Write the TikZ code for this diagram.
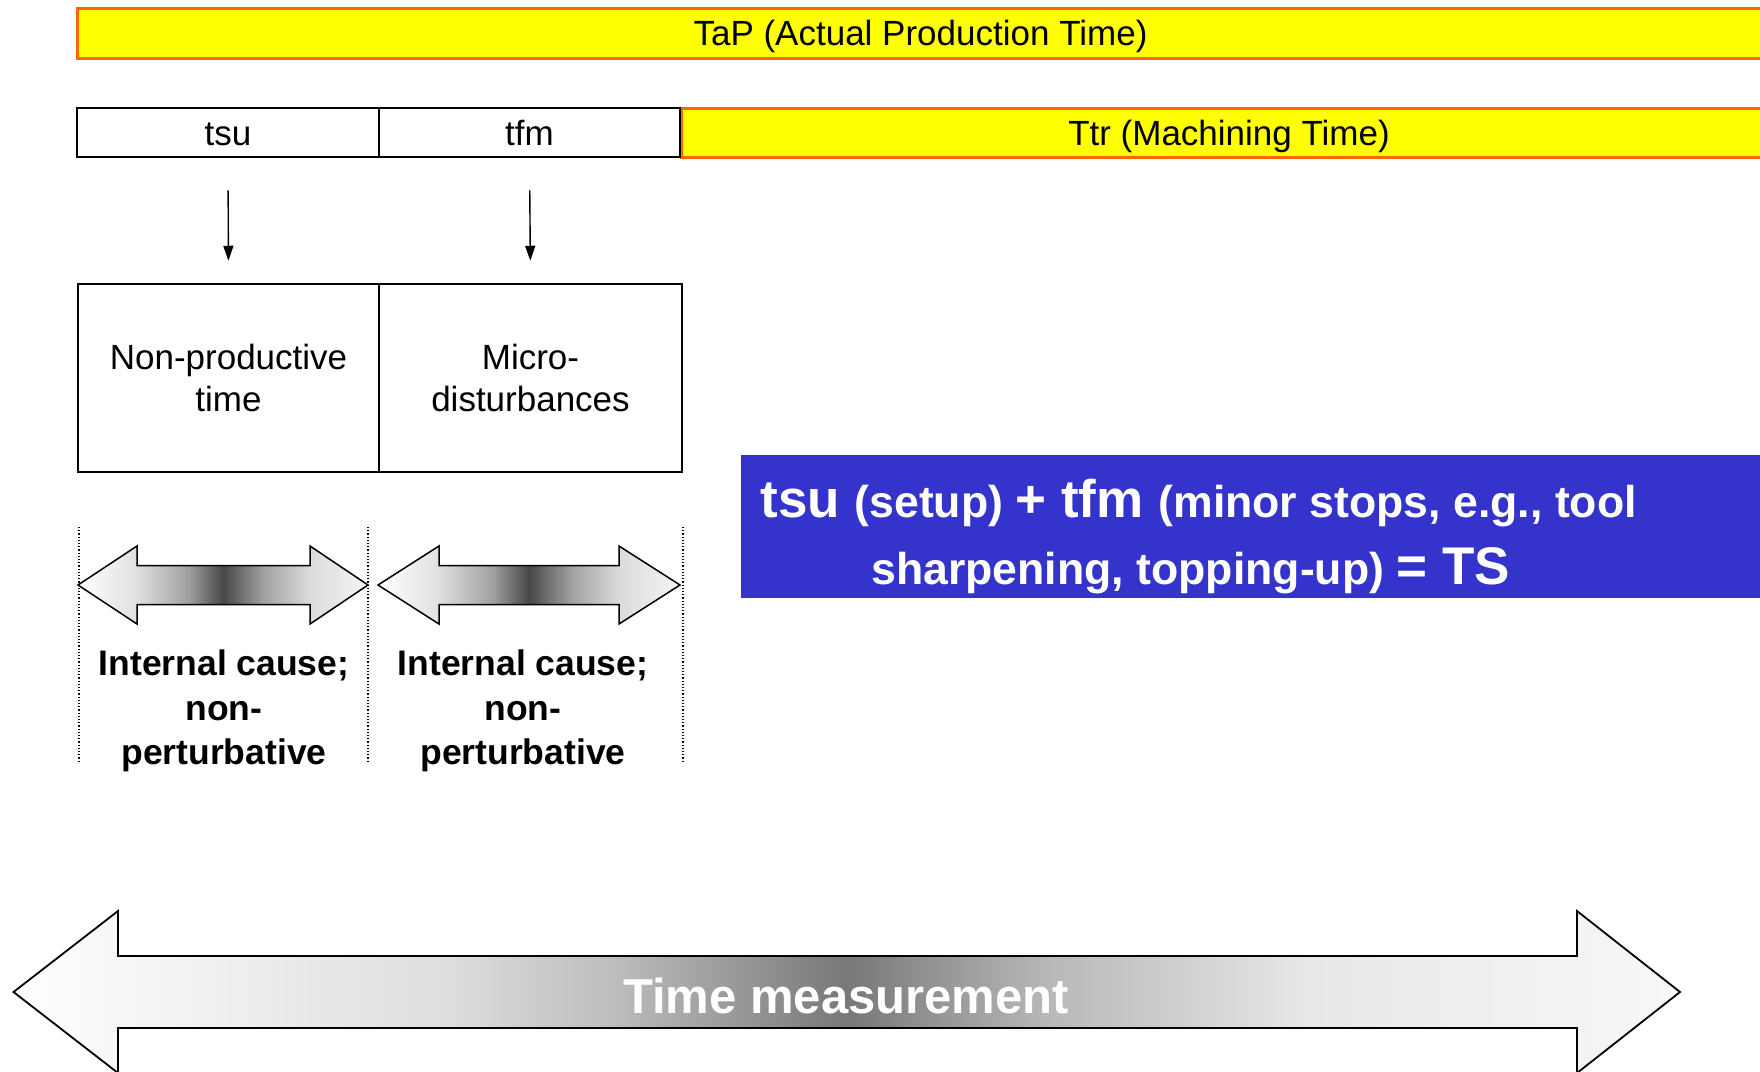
\documentclass[tikz,border=0pt]{standalone}
\usepackage{fontspec}
\setmainfont{Liberation Sans}
\usetikzlibrary{arrows.meta}

\definecolor{barorange}{RGB}{255,102,0}
\definecolor{baryellow}{RGB}{255,255,0}
\definecolor{sumblue}{RGB}{52,52,204}

% grey band that darkens towards the middle of each double arrow
\pgfdeclarehorizontalshading{pairshade}{100bp}{color(0bp)=(white); color(25bp)=(white); color(35bp)=(black!12); color(44bp)=(black!37); color(50bp)=(black!72); color(57bp)=(black!37); color(65bp)=(black!14); color(75bp)=(black!4); color(100bp)=(black!4)}
\pgfdeclarehorizontalshading{spanshade}{100bp}{color(0bp)=(white); color(25bp)=(white); color(31bp)=(black!6); color(38bp)=(black!13); color(43bp)=(black!26); color(50bp)=(black!53); color(56bp)=(black!28); color(64bp)=(black!9); color(75bp)=(black!3); color(100bp)=(black!3)}

\tikzset{
  timebar/.style={draw=barorange, line width=1.5pt, fill=baryellow, inner sep=0pt, text height=12.6pt, text depth=0pt},
  cellbox/.style={draw=black, line width=1.25pt, inner sep=0pt, text height=12.6pt, text depth=0pt},
  causebox/.style={draw=black, line width=1.25pt, inner sep=0pt, align=center},
  downarrow/.style={-{Triangle[length=7.5pt,width=5pt]}, line width=0.7pt},
  guide/.style={line width=0.6pt, dash pattern=on 0.6pt off 1pt},
  pairarrow/.style={draw=black, line width=0.75pt, shading=pairshade},
  spanarrow/.style={draw=black, line width=0.9pt, shading=spanshade},
  causelabel/.style={align=center, font=\bfseries\fontsize{17.75}{22.25}\selectfont, inner sep=0pt},
  sumtext/.style={anchor=base west, text=white, inner sep=0pt, font=\bfseries},
}

\newcommand\bigpart{\fontsize{26.5}{30}\selectfont}
\newcommand\smallpart{\fontsize{22.3}{26}\selectfont}

\begin{document}
\begin{tikzpicture}[x=1pt, y=-1pt, font=\fontsize{17.5}{21}\selectfont]
\useasboundingbox (0,0) rectangle (880,535.5);
\clip (0,0) rectangle (880,535.5);

% overall production time
\node[timebar, minimum width=843.5pt, minimum height=25pt] (tap) at (460.25,16.5) {TaP (Actual Production Time)};

% split of the production time
\node[timebar, minimum width=548pt, minimum height=24.5pt] (ttr) at (614.5,66.25) {Ttr (Machining Time)};
\node[cellbox, minimum width=151pt, minimum height=24.5pt] (tsu) at (114,66.25) {tsu};
\node[cellbox, minimum width=150.5pt, minimum height=24.5pt] (tfm) at (264.75,66.25) {tfm};

% kinds of lost time
\node[causebox, minimum width=150.5pt, minimum height=94pt] (np) at (114.25,189) {Non-productive\\time};
\node[causebox, minimum width=151.5pt, minimum height=94pt] (md) at (265.25,189) {Micro-\\disturbances};

\draw[downarrow, shorten <=16pt, shorten >=11pt] (tsu.south) -- (np.north);
\draw[downarrow, shorten <=16pt, shorten >=11pt] (tfm.south) -- (md.north);

% dotted guides
\coordinate (g1t) at (39.5,263.5);  \coordinate (g1b) at (39.5,381.5);
\coordinate (g2t) at (184,263.5);   \coordinate (g2b) at (184,381.5);
\coordinate (g3t) at (341.5,263.5); \coordinate (g3b) at (341.5,381.5);
\draw[guide] (g1t) -- (g1b);
\draw[guide] (g2t) -- (g2b);
\draw[guide] (g3t) -- (g3b);

% double arrows under the two cells
\path[pairarrow] (39,292.5) -- (68.5,273) -- (68.5,282.75) -- (155,282.75) -- (155,273) -- (184,292.5)
  -- (155,312) -- (155,302.25) -- (68.5,302.25) -- (68.5,312) -- cycle;
\path[pairarrow] (189,292.5) -- (219.5,273) -- (219.5,282.75) -- (309.5,282.75) -- (309.5,273) -- (340,292.5)
  -- (309.5,312) -- (309.5,302.25) -- (219.5,302.25) -- (219.5,312) -- cycle;

\node[causelabel] (causeA) at (112,355.6) {Internal cause;\\non-\\perturbative};
\node[causelabel] (causeB) at (261.5,355.6) {Internal cause;\\non-\\perturbative};

% summary panel
\node[fill=sumblue, inner sep=0pt, minimum width=514.5pt, minimum height=71.5pt] (panel) at (627.75,263.25) {};
\node[sumtext] (sumA) at (380,258.5) {\bigpart tsu \smallpart(setup) \bigpart+ tfm \smallpart(minor stops, e.g., tool};
\node[sumtext] (sumB) at (435.5,292) {\smallpart sharpening, topping-up) \bigpart= TS};

% time measurement span
\path[spanarrow] (6.75,496) -- (59,455.5) -- (59,478) -- (788.5,478) -- (788.5,455.5) -- (840,496)
  -- (788.5,536.5) -- (788.5,514) -- (59,514) -- (59,536.5) -- cycle;
\node[text=white, font=\bfseries\fontsize{24.5}{28}\selectfont, inner sep=0pt, text height=17.5pt, text depth=0pt] (tm) at (423,497.75) {Time measurement};
\end{tikzpicture}
\end{document}
